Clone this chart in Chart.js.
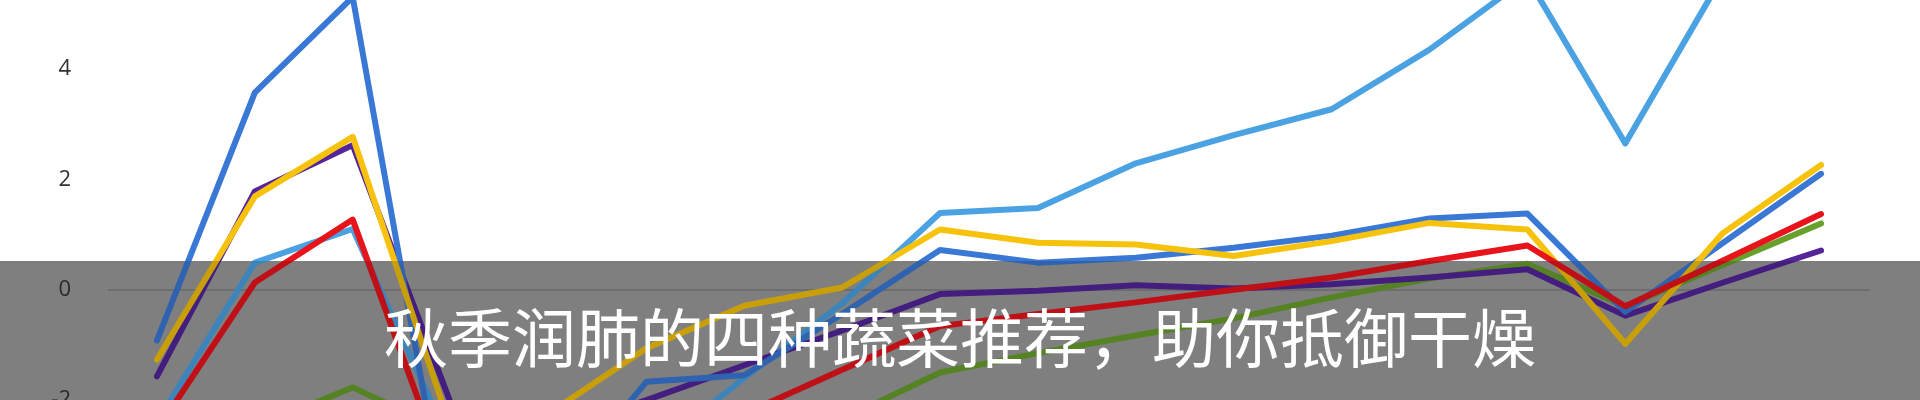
<!DOCTYPE html>
<html>
<head>
<meta charset="utf-8">
<script src="https://cdn.jsdelivr.net/npm/chart.js@4.4.1/dist/chart.umd.min.js"></script>
<style>
    html, body { margin: 0; padding: 0; background: #fff; }
    #wrap { position: relative; width: 1920px; height: 400px; overflow: hidden; background: #fff; }
    #band {
        position: absolute; left: 0; top: 261px; width: 1920px; height: 139px;
        background: #9c9c9c; z-index: 1;
    }
    #myChart { position: absolute; left: 0; top: -202px; z-index: 2; }
    #shade {
        position: absolute; left: 0; top: 261px; width: 1920px; height: 139px;
        background: rgba(0, 0, 0, 0.18); z-index: 3;
    }
    #title {
        position: absolute; left: 0; top: 302px; width: 1920px; z-index: 4;
        text-align: center; color: #fff;
        font-family: "Noto Sans CJK SC", sans-serif; font-size: 64px; line-height: 64px;
    }
</style>
</head>
<body>
<div id="wrap">
    <div id="band"></div>
    <canvas id="myChart" width="1920" height="873"></canvas>
    <div id="shade"></div>
    <div id="title">秋季润肺的四种蔬菜推荐，助你抵御干燥</div>
</div>
<script>
// categories (the x axis sits below the visible crop)
const labels = ['1', '2', '3', '4', '5', '6', '7', '8', '9', '10', '11', '12', '13', '14', '15', '16', '17', '18'];

// series values
const redVals = [-2.55, 0.13, 1.27, -3.6, -3.1, -2.9, -2.25, -1.45, -0.66, -0.44, -0.23, 0.0, 0.22, 0.52, 0.8, -0.3, 0.53, 1.37];
const yellowVals = [-1.27, 1.69, 2.77, -2.5, -2.25, -1.06, -0.29, 0.04, 1.09, 0.85, 0.82, 0.61, 0.88, 1.21, 1.09, -0.98, 1.03, 2.26];
const blueVals = [-0.92, 3.57, 5.3, -4.6, -3.8, -1.67, -1.55, -0.44, 0.72, 0.49, 0.58, 0.76, 0.98, 1.29, 1.38, -0.4, 0.85, 2.1];
const purpleVals = [-1.57, 1.78, 2.62, -2.05, -2.6, -2.0, -1.37, -0.74, -0.08, -0.02, 0.08, 0.02, 0.1, 0.22, 0.37, -0.47, 0.13, 0.71];
const lightBlueVals = [-2.4, 0.49, 1.1, -2.8, -3.0, -3.0, -1.6, -0.25, 1.39, 1.48, 2.29, 2.8, 3.27, 4.35, 5.65, 2.65, 5.7, 6.0];
const greenVals = [-2.8, -2.5, -1.77, -2.6, -2.9, -2.8, -2.7, -2.35, -1.5, -1.15, -0.83, -0.52, -0.14, 0.2, 0.47, -0.3, 0.45, 1.2];

// y axis tick values
const yTicks = [-6, -4, -2, 0, 2, 4, 6, 8];

const line = (data, color) => ({
    data: data,
    borderColor: color,
    backgroundColor: color,
    borderWidth: 6,
    pointRadius: 0,
    tension: 0,
    borderJoinStyle: 'round',
    borderCapStyle: 'round'
});

const config = {
    type: 'line',
    data: {
        labels: labels,
        datasets: [
            line(redVals, '#e8141c'),
            line(yellowVals, '#f6c20c'),
            line(blueVals, '#3a78d6'),
            line(purpleVals, '#54259a'),
            line(lightBlueVals, '#4aa2e3'),
            line(greenVals, '#68a02c')
        ]
    },
    options: {
        responsive: false,
        animation: false,
        layout: { padding: { left: 0, right: 50, top: 30, bottom: 30 } },
        plugins: {
            legend: { display: false },
            tooltip: { enabled: false }
        },
        scales: {
            x: {
                display: false,
                offset: true
            },
            y: {
                min: yTicks[0],
                max: yTicks[yTicks.length - 1],
                afterBuildTicks: (scale) => {
                    scale.ticks = yTicks.map(v => ({ value: v }));
                },
                afterFit: (scale) => {
                    scale.width = 108;
                },
                border: { display: false },
                grid: {
                    drawTicks: false,
                    lineWidth: 2,
                    color: (ctx) => ctx.tick && ctx.tick.value === 0 ? '#858585' : 'rgba(0,0,0,0)'
                },
                ticks: {
                    padding: 37,
                    color: '#333333',
                    font: { family: 'Open Sans', size: 22 }
                }
            }
        }
    }
};

const graph = new Chart(document.getElementById('myChart'), config);
</script>
</body>
</html>
